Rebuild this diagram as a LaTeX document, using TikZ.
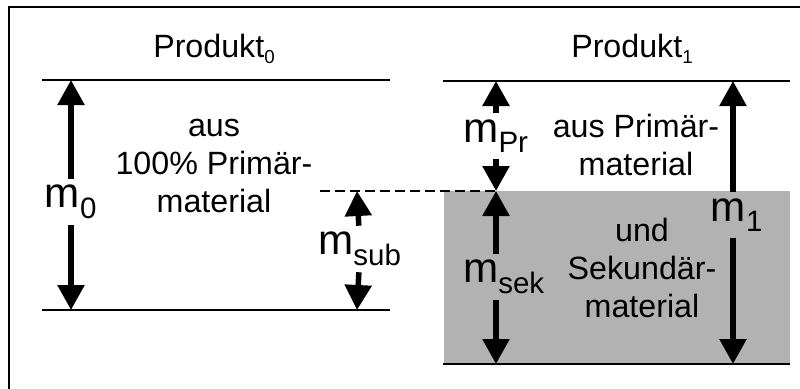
\documentclass[tikz,border=0pt]{standalone}
\usepackage{fontspec}
\setmainfont{Liberation Sans}
\usetikzlibrary{arrows.meta}
\definecolor{sekgray}{gray}{0.7}
\newcommand{\txtfont}{\fontsize{27.5pt}{32.4pt}\selectfont}
\newcommand{\massfont}{\fontsize{36pt}{40pt}\selectfont}
\newcommand{\idx}[1]{\raisebox{-0.4ex}{\fontsize{16pt}{16pt}\selectfont #1}}

\begin{document}
\begin{tikzpicture}[x=0.03cm,y=-0.03cm,>={Triangle[width=0.78cm,length=0.75cm]},
    level/.style={line width=1.7pt},
    dim/.style={->,line width=4.7pt},
    mass/.style={font=\massfont,inner xsep=0pt,inner ysep=5pt},
    body/.style={font=\txtfont,align=center,inner sep=0pt}]
  \useasboundingbox (0,0) rectangle (800,389);
  \draw[level] (9,389)--(9,7)--(800,7);
  % Produkt 0
  \coordinate (top0) at (71,80);
  \coordinate (bot0) at (71,310);
  \coordinate (sub0) at (357,310);
  \coordinate (cut0) at (357,191);
  \draw[level] (42,80)--(390,80) (42,310)--(390,310);
  \node[font=\txtfont,anchor=base] (head0) at (214,57) {Produkt\idx{0}};
  \node[body,anchor=base] (text0) at (214,212) {aus\\100\% Primär-\\material};
  \node[mass] (m0) at (71,202) {m\textsubscript{0}};
  \draw[dim] (m0)--(top0);
  \draw[dim] (m0)--(bot0);
  \node[mass] (msub) at (360,249) {m\textsubscript{sub}};
  \draw[dim] (msub)--(cut0);
  \draw[dim] (msub)--(sub0);
  % Produkt 1
  \fill[sekgray] (444,191) rectangle (790,364);
  \coordinate (top1) at (496,81);
  \coordinate (mid1) at (496,191);
  \coordinate (bot1) at (496,364);
  \coordinate (topm1) at (733,81);
  \coordinate (botm1) at (733,364);
  \draw[level] (443,81)--(790,81) (443,364)--(790,364);
  \draw[line width=2.4pt,dash pattern=on 0.3cm off 0.15cm] (320,191)--(mid1);
  \node[font=\txtfont,anchor=base] (head1) at (632,57) {Produkt\idx{1}};
  \node[body,anchor=base] (text1a) at (636,175) {aus Primär-\\material};
  \node[body,anchor=base] (text1b) at (642,317) {und\\Sekundär-\\material};
  \node[mass] (mpr) at (496,136) {m\textsubscript{Pr}};
  \draw[dim] (mpr)--(top1);
  \draw[dim] (mpr)--(mid1);
  \node[mass] (msek) at (504,277) {m\textsubscript{sek}};
  \draw[dim] (msek.north -| mid1)--(mid1);
  \draw[dim] (msek.south -| bot1)--(bot1);
  \node[mass] (m1) at (737,215) {m\textsubscript{1}};
  \draw[dim] (m1.north -| topm1)--(topm1);
  \draw[dim] (m1.south -| botm1)--(botm1);
\end{tikzpicture}
\end{document}
